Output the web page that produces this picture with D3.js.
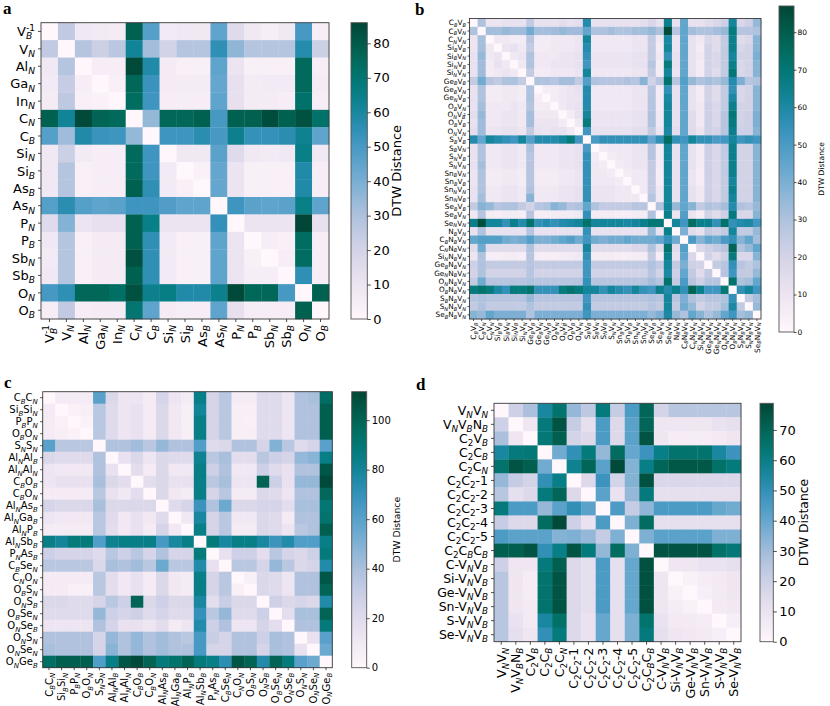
<!DOCTYPE html>
<html>
<head>
<meta charset="utf-8">
<script src="https://cdn.jsdelivr.net/npm/d3@7"></script>
<style>
  body { margin: 0; background: #fff; }
  svg { font-family: 'DejaVu Sans', sans-serif; }
</style>
</head>
<body>
<div class="canvas"></div>
<script>
// ---- data ----
const labelsA = ['V_{B}^{-1}', 'V_{N}', 'Al_{N}', 'Ga_{N}', 'In_{N}', 'C_{N}', 'C_{B}', 'Si_{N}', 'Si_{B}',
  'As_{B}', 'As_{N}', 'P_{N}', 'P_{B}', 'Sb_{N}', 'Sb_{B}', 'O_{N}', 'O_{B}'];
const valuesA = [
  [0, 25, 8, 7, 6, 78, 47, 7, 8, 8, 45, 15, 8, 5, 8, 50, 5],
  [25, 0, 28, 22, 27, 62, 32, 20, 28, 28, 55, 36, 28, 28, 28, 57, 22],
  [8, 28, 0, 5, 5, 85, 58, 6, 4, 4, 45, 10, 4, 4, 4, 75, 5],
  [7, 24, 5, 0, 4, 76, 53, 6, 6, 6, 44, 12, 6, 7, 7, 75, 6],
  [6, 26, 4, 3, 0, 74, 52, 5, 5, 5, 45, 12, 6, 6, 5, 72, 5],
  [78, 62, 85, 77, 75, 0, 35, 76, 76, 78, 50, 78, 78, 84, 78, 83, 72],
  [47, 33, 58, 53, 52, 35, 0, 52, 52, 56, 50, 64, 54, 54, 56, 63, 45],
  [8, 22, 7, 5, 5, 75, 52, 0, 8, 8, 46, 15, 8, 7, 8, 65, 8],
  [8, 28, 4, 5, 5, 75, 52, 7, 0, 3, 44, 10, 4, 4, 4, 58, 5],
  [8, 28, 4, 5, 5, 78, 55, 7, 4, 0, 44, 10, 4, 4, 4, 58, 5],
  [47, 56, 47, 45, 46, 52, 52, 48, 45, 45, 0, 52, 46, 45, 46, 65, 45],
  [15, 38, 10, 12, 12, 78, 65, 10, 10, 10, 54, 0, 10, 10, 10, 86, 12],
  [8, 28, 4, 6, 6, 78, 55, 7, 4, 4, 45, 10, 0, 5, 4, 74, 5],
  [7, 28, 4, 6, 6, 83, 55, 7, 4, 4, 45, 10, 4, 0, 5, 74, 5],
  [8, 28, 4, 6, 6, 78, 55, 7, 4, 4, 45, 10, 5, 5, 0, 55, 5],
  [50, 55, 76, 76, 73, 83, 64, 66, 58, 58, 64, 85, 76, 76, 50, 0, 78],
  [5, 25, 5, 6, 6, 70, 45, 6, 5, 5, 45, 12, 5, 5, 5, 78, 0]
];

const labelsB = ['C_{B}V_{B}', 'C_{B}V_{N}', 'C_{N}V_{N}', 'Si_{B}V_{B}', 'Si_{B}V_{N}', 'Si_{N}V_{B}', 'Si_{N}V_{N}',
  'Ge_{B}V_{B}', 'Ge_{B}V_{N}', 'Ge_{N}V_{B}', 'O_{B}V_{N}', 'O_{N}V_{B}^{-1}', 'O_{B}V_{B}', 'O_{N}V_{N}',
  'S_{B}V_{B}', 'S_{B}V_{N}', 'S_{N}V_{B}', 'S_{N}V_{N}', 'Sn_{B}V_{N}', 'Sn_{B}V_{B}', 'Sn_{N}V_{N}', 'Sn_{N}V_{B}',
  'Se_{B}V_{B}', 'Se_{B}V_{N}', 'Se_{N}V_{N}', 'N_{B}V_{N}', 'C_{B}N_{B}V_{N}', 'C_{N}N_{B}V_{N}', 'Si_{N}N_{B}V_{N}',
  'Ge_{B}N_{B}V_{N}', 'Ge_{N}N_{B}V_{N}', 'O_{N}N_{B}V_{N}', 'O_{B}N_{B}V_{N}', 'S_{B}N_{B}V_{N}', 'S_{N}N_{B}V_{N}',
  'Se_{B}N_{B}V_{N}'];
const valuesB = [
  [0, 30, 10, 10, 12, 12, 12, 25, 12, 12, 12, 14, 12, 14, 58, 12, 12, 12, 12, 12, 12, 14, 18, 12, 65, 12, 45, 12, 12, 15, 18, 22, 62, 18, 22, 35],
  [30, 0, 32, 32, 35, 33, 33, 42, 32, 32, 33, 35, 33, 33, 45, 30, 30, 32, 30, 30, 32, 32, 35, 30, 85, 28, 45, 32, 30, 30, 32, 35, 68, 28, 28, 30],
  [10, 32, 0, 8, 8, 6, 6, 28, 6, 6, 8, 8, 8, 10, 62, 8, 8, 8, 8, 8, 10, 10, 25, 8, 60, 10, 45, 12, 8, 18, 15, 25, 65, 15, 18, 38],
  [10, 32, 8, 0, 10, 12, 8, 25, 6, 6, 8, 8, 8, 10, 58, 8, 8, 8, 8, 8, 10, 10, 25, 6, 62, 10, 45, 12, 6, 20, 15, 25, 65, 18, 20, 38],
  [12, 35, 8, 10, 0, 8, 10, 30, 8, 8, 8, 10, 10, 12, 55, 10, 10, 10, 10, 10, 12, 12, 25, 8, 55, 12, 45, 12, 8, 20, 18, 25, 62, 20, 20, 40],
  [12, 33, 6, 12, 8, 0, 8, 30, 8, 8, 10, 10, 10, 12, 52, 10, 10, 10, 10, 10, 12, 12, 28, 6, 68, 12, 45, 12, 6, 20, 18, 25, 65, 18, 20, 38],
  [12, 33, 6, 8, 10, 8, 0, 25, 6, 6, 8, 8, 8, 10, 62, 8, 8, 8, 8, 8, 10, 10, 25, 6, 62, 10, 45, 12, 6, 20, 15, 25, 70, 18, 20, 38],
  [25, 42, 28, 25, 30, 30, 25, 0, 30, 30, 28, 32, 32, 25, 48, 30, 28, 28, 28, 30, 28, 38, 20, 28, 72, 28, 48, 35, 30, 32, 30, 35, 58, 40, 28, 30],
  [12, 30, 6, 6, 8, 8, 6, 30, 0, 5, 6, 8, 10, 12, 58, 8, 8, 8, 8, 8, 10, 10, 28, 6, 55, 12, 45, 12, 6, 20, 15, 25, 55, 18, 20, 38],
  [12, 30, 6, 6, 8, 8, 6, 30, 5, 0, 6, 8, 10, 10, 58, 8, 8, 8, 8, 8, 10, 10, 28, 6, 60, 12, 45, 12, 6, 20, 15, 25, 60, 18, 20, 38],
  [12, 32, 8, 8, 8, 10, 8, 28, 6, 6, 0, 8, 10, 12, 58, 8, 8, 8, 8, 8, 10, 10, 28, 6, 62, 12, 45, 12, 8, 22, 18, 25, 65, 20, 20, 38],
  [14, 35, 8, 8, 10, 10, 8, 32, 8, 8, 8, 0, 6, 12, 62, 10, 10, 10, 10, 10, 12, 12, 30, 8, 62, 12, 45, 15, 8, 22, 18, 28, 70, 20, 22, 40],
  [12, 33, 8, 8, 10, 10, 8, 32, 10, 10, 10, 6, 0, 8, 68, 10, 10, 10, 10, 10, 12, 12, 30, 8, 62, 12, 45, 15, 8, 22, 18, 28, 68, 20, 22, 40],
  [14, 33, 10, 10, 12, 12, 10, 25, 12, 10, 12, 12, 8, 0, 52, 12, 12, 12, 12, 12, 14, 14, 25, 10, 60, 14, 45, 15, 10, 22, 20, 28, 65, 22, 22, 38],
  [58, 45, 62, 58, 55, 52, 62, 48, 58, 58, 58, 62, 68, 52, 0, 50, 55, 55, 55, 55, 55, 55, 45, 55, 75, 55, 52, 62, 55, 55, 50, 52, 62, 52, 55, 52],
  [12, 30, 8, 8, 10, 10, 8, 30, 8, 8, 8, 10, 10, 12, 50, 0, 6, 8, 8, 8, 10, 10, 28, 6, 62, 12, 45, 12, 6, 22, 18, 25, 65, 20, 20, 38],
  [12, 30, 8, 8, 10, 10, 8, 28, 8, 8, 8, 10, 10, 12, 55, 6, 0, 6, 8, 8, 10, 10, 28, 6, 62, 12, 45, 12, 6, 22, 18, 25, 65, 20, 20, 38],
  [12, 32, 8, 8, 10, 10, 8, 28, 8, 8, 8, 10, 10, 12, 55, 8, 6, 0, 6, 8, 10, 10, 25, 6, 62, 12, 45, 12, 6, 22, 18, 25, 65, 20, 20, 38],
  [10, 30, 6, 6, 8, 8, 6, 28, 6, 6, 6, 8, 8, 10, 55, 8, 8, 6, 0, 6, 8, 8, 25, 5, 62, 12, 45, 10, 5, 22, 18, 25, 65, 20, 20, 38],
  [10, 30, 6, 6, 8, 8, 6, 28, 6, 6, 6, 8, 8, 10, 55, 8, 8, 8, 6, 0, 8, 8, 25, 5, 62, 12, 45, 10, 5, 22, 18, 25, 62, 20, 20, 38],
  [12, 30, 8, 8, 10, 10, 8, 30, 8, 8, 8, 10, 10, 12, 55, 10, 10, 10, 8, 8, 0, 8, 25, 8, 62, 12, 45, 12, 8, 22, 18, 25, 65, 20, 20, 38],
  [12, 32, 8, 8, 10, 10, 8, 38, 8, 8, 8, 10, 10, 12, 55, 10, 10, 10, 8, 8, 8, 0, 28, 8, 62, 12, 45, 12, 8, 22, 18, 25, 62, 20, 20, 38],
  [25, 38, 35, 28, 30, 30, 25, 20, 28, 30, 38, 35, 28, 30, 45, 30, 25, 25, 25, 25, 28, 28, 0, 30, 62, 35, 45, 38, 25, 30, 28, 32, 58, 30, 28, 35],
  [8, 28, 6, 5, 6, 6, 5, 28, 5, 5, 6, 6, 6, 8, 55, 6, 6, 6, 5, 5, 6, 6, 30, 0, 65, 10, 48, 10, 5, 20, 15, 22, 68, 18, 18, 38],
  [65, 85, 62, 62, 55, 65, 58, 72, 55, 58, 55, 58, 60, 62, 72, 62, 62, 62, 62, 60, 62, 65, 70, 70, 0, 62, 52, 75, 65, 65, 55, 72, 55, 58, 60, 52],
  [12, 30, 12, 12, 12, 12, 12, 28, 12, 12, 12, 12, 12, 12, 55, 12, 12, 12, 12, 12, 12, 12, 35, 12, 65, 0, 40, 15, 12, 25, 22, 25, 62, 25, 25, 35],
  [45, 48, 48, 48, 42, 40, 42, 48, 40, 40, 42, 45, 48, 42, 52, 42, 40, 42, 42, 45, 42, 42, 42, 45, 55, 42, 0, 50, 38, 45, 42, 50, 55, 38, 45, 32],
  [15, 42, 15, 15, 15, 15, 15, 30, 15, 15, 15, 15, 15, 15, 62, 15, 15, 15, 15, 15, 18, 18, 30, 15, 72, 15, 48, 0, 18, 22, 25, 28, 78, 30, 35, 45],
  [10, 30, 5, 5, 6, 6, 5, 28, 5, 5, 5, 6, 6, 8, 55, 6, 6, 6, 5, 5, 6, 6, 25, 5, 65, 12, 45, 18, 0, 20, 15, 22, 68, 18, 18, 38],
  [22, 30, 25, 25, 25, 25, 25, 28, 25, 25, 25, 25, 25, 25, 52, 25, 25, 25, 25, 25, 25, 25, 30, 25, 62, 25, 40, 22, 20, 0, 25, 28, 55, 28, 25, 30],
  [20, 30, 20, 20, 20, 20, 20, 28, 20, 20, 20, 20, 20, 20, 52, 20, 20, 20, 20, 20, 20, 20, 28, 20, 60, 22, 45, 25, 15, 25, 0, 28, 52, 25, 25, 35],
  [25, 42, 28, 28, 28, 28, 28, 30, 28, 28, 28, 28, 28, 28, 55, 28, 28, 28, 28, 28, 28, 28, 32, 28, 72, 25, 50, 28, 22, 28, 28, 0, 72, 30, 32, 45],
  [68, 72, 68, 60, 55, 68, 68, 72, 55, 55, 55, 68, 72, 68, 62, 62, 55, 62, 58, 55, 62, 55, 52, 65, 58, 65, 55, 78, 65, 52, 52, 70, 0, 55, 62, 52],
  [28, 30, 28, 28, 28, 28, 28, 35, 28, 28, 28, 28, 28, 28, 52, 28, 28, 28, 28, 28, 28, 28, 30, 28, 62, 28, 40, 30, 25, 28, 28, 30, 55, 0, 25, 32],
  [25, 30, 25, 25, 25, 25, 25, 30, 25, 25, 25, 25, 25, 25, 55, 25, 25, 25, 25, 25, 25, 25, 28, 25, 62, 25, 42, 35, 20, 25, 25, 32, 60, 25, 0, 35],
  [38, 35, 45, 40, 40, 40, 40, 30, 40, 40, 40, 40, 40, 40, 52, 40, 40, 40, 40, 40, 40, 40, 35, 40, 60, 35, 30, 45, 38, 30, 35, 45, 52, 32, 35, 0]
];

const labelsC = ['C_{B}C_{N}', 'Si_{B}Si_{N}', 'P_{B}P_{N}', 'O_{B}O_{N}', 'S_{N}S_{N}', 'Al_{N}Al_{B}', 'Al_{N}Al_{N}',
  'C_{B}O_{B}', 'C_{B}O_{N}', 'Al_{N}As_{B}', 'Al_{N}Ga_{B}', 'Al_{N}P_{B}', 'Al_{N}Sb_{B}', 'P_{N}As_{B}', 'C_{B}Se_{N}',
  'C_{N}O_{N}', 'O_{B}S_{N}', 'O_{N}S_{B}', 'O_{B}Se_{N}', 'O_{N}Se_{B}', 'O_{N}S_{N}', 'O_{N}Se_{N}', 'O_{N}Ge_{B}'];
const valuesC = [
  [0, 8, 8, 8, 60, 22, 12, 12, 8, 25, 12, 8, 85, 25, 35, 8, 8, 20, 20, 12, 38, 40, 95],
  [8, 0, 4, 6, 35, 20, 12, 15, 8, 22, 10, 6, 80, 25, 35, 6, 6, 20, 20, 12, 38, 38, 102],
  [8, 4, 0, 3, 35, 20, 12, 15, 8, 22, 10, 6, 85, 25, 35, 6, 5, 20, 20, 12, 38, 38, 102],
  [8, 6, 3, 0, 35, 20, 12, 15, 8, 22, 10, 6, 85, 25, 35, 6, 6, 20, 20, 12, 38, 38, 102],
  [60, 35, 35, 35, 0, 38, 38, 42, 35, 45, 38, 38, 62, 20, 22, 38, 38, 25, 50, 35, 20, 25, 60],
  [22, 20, 20, 20, 38, 0, 15, 22, 12, 22, 20, 20, 82, 35, 40, 18, 18, 35, 28, 25, 45, 48, 85],
  [12, 10, 10, 10, 38, 15, 0, 18, 8, 22, 10, 10, 85, 28, 38, 10, 10, 28, 20, 15, 38, 38, 105],
  [12, 15, 15, 15, 40, 22, 18, 0, 18, 22, 15, 15, 85, 35, 40, 12, 12, 100, 28, 15, 45, 45, 110],
  [8, 8, 8, 8, 35, 15, 10, 18, 0, 22, 10, 8, 85, 25, 35, 8, 8, 22, 20, 12, 38, 38, 98],
  [25, 22, 22, 22, 40, 22, 22, 22, 22, 0, 20, 25, 68, 38, 55, 22, 22, 25, 25, 18, 40, 40, 90],
  [12, 10, 10, 10, 35, 20, 10, 15, 10, 20, 0, 10, 78, 25, 35, 10, 10, 22, 20, 8, 38, 38, 92],
  [8, 8, 8, 8, 35, 18, 10, 15, 8, 25, 10, 0, 85, 25, 35, 8, 8, 22, 20, 12, 35, 38, 102],
  [85, 80, 88, 88, 62, 82, 85, 85, 85, 65, 78, 85, 0, 88, 78, 85, 85, 78, 68, 75, 62, 62, 85],
  [28, 25, 25, 25, 20, 35, 28, 35, 25, 38, 25, 25, 88, 0, 15, 28, 28, 18, 35, 25, 22, 28, 88],
  [35, 35, 35, 35, 22, 40, 38, 42, 35, 55, 35, 35, 75, 15, 0, 35, 35, 25, 45, 35, 22, 25, 75],
  [8, 8, 8, 8, 35, 18, 10, 15, 8, 22, 10, 8, 85, 25, 35, 0, 5, 22, 20, 12, 38, 38, 105],
  [8, 8, 5, 5, 35, 18, 10, 15, 8, 22, 10, 8, 85, 25, 35, 5, 0, 22, 20, 12, 38, 38, 100],
  [22, 22, 20, 20, 25, 35, 28, 100, 22, 28, 22, 22, 78, 18, 30, 22, 22, 0, 28, 22, 25, 22, 75],
  [20, 20, 20, 20, 45, 28, 25, 28, 20, 25, 20, 20, 70, 35, 45, 20, 20, 28, 0, 18, 40, 40, 100],
  [12, 12, 12, 12, 38, 25, 15, 15, 12, 18, 8, 12, 75, 28, 38, 12, 12, 25, 18, 0, 38, 38, 88],
  [38, 38, 38, 38, 25, 45, 38, 45, 38, 42, 38, 35, 65, 30, 25, 38, 38, 28, 40, 38, 0, 15, 60],
  [40, 38, 38, 38, 25, 48, 38, 45, 38, 42, 38, 38, 65, 25, 25, 38, 38, 25, 40, 38, 15, 0, 55],
  [95, 102, 102, 102, 62, 85, 105, 110, 100, 88, 92, 100, 88, 85, 72, 106, 100, 75, 100, 88, 60, 55, 0]
];

const labelsD = ['V_{N}V_{N}', 'V_{N}V_{B}N_{B}', 'C_{2}V_{B}', 'C_{2}C_{B}', 'C_{2}C_{N}', 'C_{2}C_{2}-1', 'C_{2}C_{2}-2',
  'C_{2}C_{2}-3', 'C_{2}C_{2}-4', 'C_{2}C_{2}-5', 'C_{2}C_{B}C_{B}', 'C-V_{N}V_{B}', 'Si-V_{N}V_{B}', 'Ge-V_{N}V_{B}',
  'Sn-V_{N}V_{B}', 'S-V_{N}V_{B}', 'Se-V_{N}V_{B}'];
const valuesD = [
  [0, 20, 28, 55, 65, 32, 24, 62, 22, 45, 70, 18, 25, 25, 25, 25, 25],
  [20, 0, 8, 62, 75, 22, 12, 45, 15, 42, 70, 8, 8, 8, 8, 10, 12],
  [28, 8, 0, 63, 72, 18, 15, 45, 15, 42, 75, 8, 5, 5, 5, 6, 8],
  [55, 62, 63, 0, 38, 50, 62, 32, 68, 40, 48, 60, 65, 65, 65, 55, 48],
  [65, 75, 72, 38, 0, 58, 70, 42, 78, 35, 60, 70, 74, 74, 74, 66, 62],
  [32, 22, 18, 50, 60, 0, 15, 48, 18, 35, 76, 16, 16, 16, 16, 16, 16],
  [25, 12, 15, 62, 70, 15, 0, 42, 10, 32, 62, 12, 12, 12, 12, 12, 12],
  [62, 45, 45, 32, 42, 50, 42, 0, 45, 22, 33, 45, 45, 45, 45, 40, 38],
  [22, 15, 15, 68, 78, 20, 10, 45, 0, 36, 68, 12, 12, 12, 12, 12, 12],
  [45, 42, 42, 42, 35, 36, 32, 22, 36, 0, 36, 42, 42, 42, 42, 36, 36],
  [72, 72, 75, 50, 60, 75, 62, 32, 68, 36, 0, 75, 75, 75, 75, 66, 63],
  [20, 8, 8, 62, 72, 15, 12, 45, 12, 40, 76, 0, 8, 8, 10, 10, 12],
  [25, 8, 5, 65, 75, 15, 12, 45, 12, 40, 76, 8, 0, 3, 5, 6, 8],
  [25, 8, 5, 65, 75, 15, 12, 45, 12, 40, 76, 8, 3, 0, 4, 6, 8],
  [25, 8, 6, 65, 75, 15, 12, 45, 12, 40, 76, 8, 5, 3, 0, 6, 7],
  [25, 10, 6, 55, 66, 15, 10, 40, 12, 36, 65, 10, 6, 6, 5, 0, 4],
  [25, 12, 8, 50, 62, 15, 10, 40, 12, 36, 62, 12, 8, 7, 6, 4, 0]
];

const ticksA = [0, 10, 20, 30, 40, 50, 60, 70, 80];
const ticksB = [0, 10, 20, 30, 40, 50, 60, 70, 80];
const ticksC = [0, 20, 40, 60, 80, 100];
const ticksD = [0, 10, 20, 30, 40, 50, 60, 70];
const cbarMax = { a: 86, b: 87, c: 111.5, d: 78.8 };

// ---- layout ----
const svg = d3.select('.canvas')
  .append('svg')
  .attr('width', 830)
  .attr('height', 706);

const panels = [
  { key: 'a', labels: labelsA, values: valuesA, ticks: ticksA,
    x: 41, y: 22.7, w: 288, h: 296.3, fs: 13, tick: 3, pad: 3, sup: 0.42, supScale: 0.7,
    cb: { x: 351, w: 16.3, y: 22.7, h: 296.3, fs: 13, titleFs: 13, titleX: 400.5 },
    letter: [3, 14] },
  { key: 'b', labels: labelsB, values: valuesB, ticks: ticksB,
    x: 469.5, y: 18.5, w: 291.5, h: 300.5, fs: 7.3, tick: 2, pad: 1.5, sup: 0.2, supScale: 0.55,
    cb: { x: 779, w: 15, y: 6, h: 326, fs: 7.5, titleFs: 7.6, titleX: 824 },
    letter: [415, 15] },
  { key: 'c', labels: labelsC, values: valuesC, ticks: ticksC,
    x: 42.7, y: 391.7, w: 289.6, h: 276, fs: 10, tick: 2.5, pad: 2.5, sup: 0.42, supScale: 0.7,
    cb: { x: 351.7, w: 15, y: 391.7, h: 276, fs: 10, titleFs: 9.3, titleX: 400 },
    letter: [4, 388] },
  { key: 'd', labels: labelsD, values: valuesD, ticks: ticksD,
    x: 494, y: 403.3, w: 247, h: 238.4, fs: 12.5, tick: 3, pad: 3, sup: 0.42, supScale: 0.7,
    cb: { x: 760, w: 13.3, y: 403.3, h: 238.4, fs: 13, titleFs: 12.4, titleX: 808 },
    letter: [416, 390] }
];

// parse 'Al_{N}V_{B}^{-1}' into pieces
const parseLabel = str => {
  const parts = [];
  const re = /([_^])\{([^}]*)\}|([^_^]+)/g;
  let m;
  while ((m = re.exec(str)) !== null) {
    if (m[1]) parts.push({ t: m[1], s: m[2] });
    else parts.push({ t: '', s: m[3] });
  }
  return parts;
};

const writeLabel = (textSel, str, p) => {
  const fs = p.fs;
  textSel.text(null);
  let shift = 0;
  let prev = null;
  parseLabel(str).forEach(part => {
    const target = part.t === '_' ? 0.24 * fs : part.t === '^' ? -p.sup * fs : 0;
    const ts = textSel.append('tspan').text(part.s).attr('dy', target - shift);
    if (part.t === '_') ts.attr('font-size', 0.7 * fs);
    if (part.t === '^') ts.attr('font-size', p.supScale * fs);
    if (part.t && /[A-Za-z]/.test(part.s)) ts.attr('font-style', 'italic');
    if (part.t === '^' && prev && prev.t === '_') {
      ts.attr('dx', -prev.node.getComputedTextLength());
    }
    shift = target;
    prev = { t: part.t, node: ts.node() };
  });
};

panels.forEach(p => {
  const n = p.labels.length;
  const vmax = cbarMax[p.key];
  const color = v => d3.interpolatePuBuGn(Math.max(0, Math.min(1, v / vmax)));

  const g = svg.append('g').attr('transform', `translate(${p.x}, ${p.y})`);

  const x = d3.scaleBand().domain(d3.range(n)).range([0, p.w]);
  const y = d3.scaleBand().domain(d3.range(n)).range([0, p.h]);

  const cells = [];
  p.values.forEach((row, i) => row.forEach((v, j) => cells.push({ i, j, v })));

  g.selectAll('rect.cell')
    .data(cells)
    .enter()
    .append('rect')
    .attr('class', 'cell')
    .attr('x', d => x(d.j))
    .attr('y', d => y(d.i))
    .attr('width', x.bandwidth() + 0.3)
    .attr('height', y.bandwidth() + 0.3)
    .attr('fill', d => color(d.v));

  g.append('rect')
    .attr('width', p.w)
    .attr('height', p.h)
    .attr('fill', 'none')
    .attr('stroke', '#3a3a3a')
    .attr('stroke-width', 0.9);

  // y axis
  const yAxisGroup = g.append('g')
    .call(d3.axisLeft(y).tickSize(p.tick).tickSizeOuter(0).tickPadding(p.pad).tickFormat(() => ''));
  yAxisGroup.select('.domain').remove();
  yAxisGroup.selectAll('.tick line').attr('stroke', '#222').attr('stroke-width', 0.8);
  yAxisGroup.selectAll('.tick text')
    .attr('font-size', p.fs)
    .attr('font-family', 'DejaVu Sans')
    .attr('fill', '#000')
    .attr('dy', null)
    .attr('y', 0.36 * p.fs)
    .each(function (d) { writeLabel(d3.select(this), p.labels[d], p); });

  // x axis, labels rotated
  const xAxisGroup = g.append('g')
    .attr('transform', `translate(0, ${p.h})`)
    .call(d3.axisBottom(x).tickSize(p.tick).tickSizeOuter(0).tickPadding(p.pad).tickFormat(() => ''));
  xAxisGroup.select('.domain').remove();
  xAxisGroup.selectAll('.tick line').attr('stroke', '#222').attr('stroke-width', 0.8);
  xAxisGroup.selectAll('.tick text')
    .attr('font-size', p.fs)
    .attr('font-family', 'DejaVu Sans')
    .attr('fill', '#000')
    .attr('dy', null)
    .attr('text-anchor', 'end')
    .attr('transform', 'rotate(-90)')
    .attr('x', -(p.tick + p.pad))
    .attr('y', 0.36 * p.fs)
    .each(function (d) { writeLabel(d3.select(this), p.labels[d], p); });

  // colorbar
  const cb = p.cb;
  const gradId = `grad-${p.key}`;
  const grad = svg.append('defs').append('linearGradient')
    .attr('id', gradId)
    .attr('x1', 0).attr('y1', 1).attr('x2', 0).attr('y2', 0);
  d3.range(0, 1.0001, 0.05).forEach(t => {
    grad.append('stop').attr('offset', t).attr('stop-color', d3.interpolatePuBuGn(t));
  });

  const cg = svg.append('g').attr('transform', `translate(${cb.x}, ${cb.y})`);
  cg.append('rect')
    .attr('width', cb.w)
    .attr('height', cb.h)
    .attr('fill', `url(#${gradId})`)
    .attr('stroke', '#555')
    .attr('stroke-width', 0.9);

  const cScale = d3.scaleLinear().domain([0, vmax]).range([cb.h, 0]);
  const cAxis = cg.append('g')
    .attr('transform', `translate(${cb.w}, 0)`)
    .call(d3.axisRight(cScale).tickValues(p.ticks).tickSize(p.tick + 0.5).tickPadding(p.pad - 0.5));
  cAxis.select('.domain').remove();
  cAxis.selectAll('.tick line').attr('stroke', '#222').attr('stroke-width', 0.8);
  cAxis.selectAll('.tick text')
    .attr('font-size', cb.fs)
    .attr('font-family', 'DejaVu Sans')
    .attr('fill', '#000');

  svg.append('text')
    .attr('transform', `translate(${cb.titleX}, ${cb.y + cb.h / 2}) rotate(-90)`)
    .attr('text-anchor', 'middle')
    .attr('font-size', cb.titleFs)
    .attr('fill', '#000')
    .text('DTW Distance');

  // panel letter
  svg.append('text')
    .attr('x', p.letter[0])
    .attr('y', p.letter[1])
    .attr('font-family', "'Liberation Serif', 'DejaVu Serif', serif")
    .attr('font-weight', 'bold')
    .attr('font-size', 17)
    .attr('fill', '#000')
    .text(p.key);
});
</script>
</body>
</html>
